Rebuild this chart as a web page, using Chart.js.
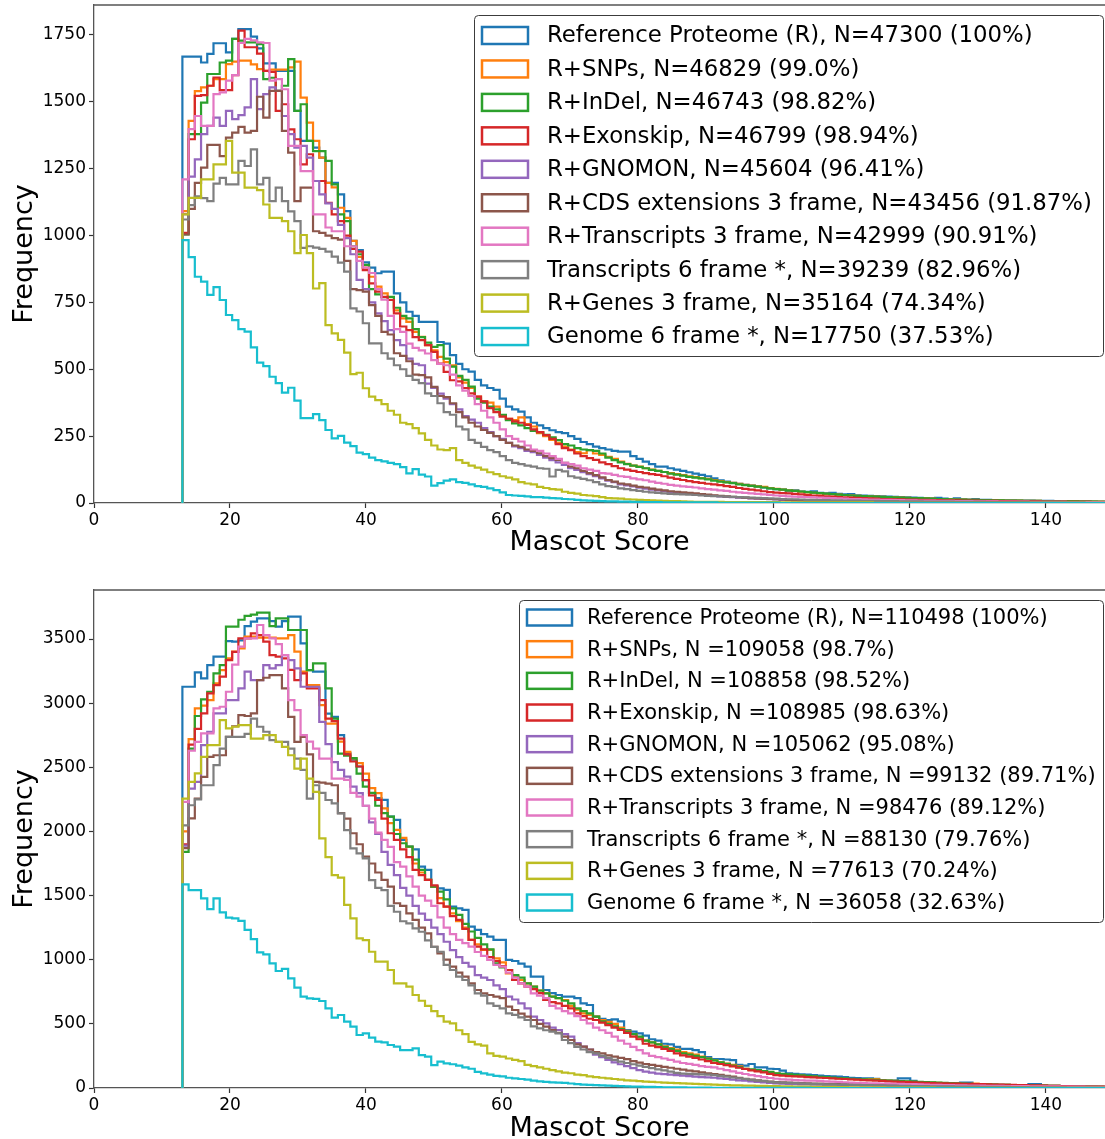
<!DOCTYPE html>
<html><head><meta charset="utf-8">
<script src="https://cdn.jsdelivr.net/npm/chart.js@4/dist/chart.umd.min.js"></script>
<style>
html,body{margin:0;padding:0;background:#fff;overflow:hidden;width:1105px;height:1139px;}
#c1{position:absolute;left:0;top:0;}
#c2{position:absolute;left:0;top:585px;}
</style></head><body>
<canvas id="c1" width="1105" height="585"></canvas>
<canvas id="c2" width="1105" height="560"></canvas>
<script>
// ---------- histogram bins (Mascot score) ----------
const binStart = 13.0;
const binWidth = 0.915;
const xTicks = [0, 20, 40, 60, 80, 100, 120, 140];
const topYTicks = [0, 250, 500, 750, 1000, 1250, 1500, 1750];
const botYTicks = [0, 500, 1000, 1500, 2000, 2500, 3000, 3500];

// ---------- top panel: frequencies per bin ----------
const topReference = [1669,1669,1669,1647,1679,1719,1719,1685,1735,1772,
1772,1744,1700,1644,1644,1616,1616,1616,1466,1354,
1354,1329,1291,1197,1197,1154,1091,980,946,900,
880,859,865,865,784,750,715,700,677,677,
677,602,596,553,520,500,491,460,440,430,
423,390,360,350,342,320,300,290,280,272,
265,261,250,240,228,220,211,205,200,195,
192,192,175,165,155,145,136,136,130,125,
120,115,110,105,100,92,85,80,75,72,
68,65,62,58,55,52,50,44,47,43,
42,44,38,36,38,34,32,33,29,28,
27,26,25,24,23,22,21,20,19,18,
17,19,16,15,17,14,13,15,12,12,
11,11,10,10,9,9,9,8,8,8,
7,7,7,6,6,6,5,5,5];
const topSNPs = [1091,1429,1540,1554,1560,1585,1585,1641,1650,1654,
1654,1640,1622,1616,1620,1620,1620,1629,1650,1516,
1422,1354,1291,1197,1180,1104,1066,980,920,880,
846,809,784,760,720,690,677,640,621,590,
571,546,527,515,470,450,430,398,380,375,
360,329,315,310,320,295,286,261,250,236,
225,211,200,190,186,198,185,180,173,165,
155,146,140,136,130,125,120,116,112,108,
104,100,97,93,90,86,82,78,75,72,
68,65,62,60,56,53,50,47,45,42,
40,38,36,34,33,31,30,28,27,26,
25,24,23,22,21,20,19,18,17,17,
16,15,15,14,13,13,12,12,11,11,
10,10,9,9,9,8,8,8,7,7,
7,6,6,6,5,5,5,5,4];
const topInDel = [1004,1379,1379,1497,1604,1604,1647,1654,1735,1729,
1722,1722,1716,1585,1590,1541,1560,1660,1466,1491,
1354,1316,1316,1279,1191,1079,1054,960,930,890,
800,780,770,771,730,700,690,650,620,600,
584,590,540,510,475,460,435,390,375,360,
350,330,310,298,290,280,270,265,255,245,
235,220,215,205,200,198,195,185,170,160,
152,145,140,135,130,124,120,116,110,106,
102,98,95,92,88,84,80,77,74,70,
67,64,61,58,55,52,50,47,45,43,
41,39,37,35,33,31,30,28,27,26,
25,24,23,22,21,20,19,18,18,17,
16,15,15,14,13,13,12,12,11,11,
10,10,9,9,9,8,8,8,7,7,
7,6,6,6,5,5,5,4,4];
const topExonskip = [1010,1360,1522,1525,1560,1591,1544,1544,1600,1766,
1704,1704,1680,1616,1612,1466,1491,1397,1360,1266,
1304,1204,1204,1122,1079,1054,1000,950,940,871,
821,790,771,759,709,660,646,620,609,590,
565,521,490,459,455,430,410,398,380,355,
340,323,315,305,300,292,275,265,254,240,
220,205,198,185,175,168,161,152,145,138,
130,125,120,116,112,108,105,100,95,90,
86,82,78,75,72,70,67,63,60,56,
53,50,47,44,41,39,37,36,34,32,
30,28,27,25,24,22,21,20,19,18,
17,16,15,15,14,14,13,13,12,12,
11,11,10,10,10,9,9,9,8,8,
8,7,7,7,6,6,6,6,5,5,
5,5,4,4,4,4,3,3,3];
const topGNOMON = [1080,1220,1285,1379,1410,1441,1410,1466,1435,1450,
1479,1585,1473,1529,1554,1541,1447,1379,1329,1335,
1291,1204,1154,1120,1100,1040,990,930,834,800,
750,709,680,646,609,590,540,520,515,446,
430,409,390,370,350,325,312,300,280,265,
250,240,225,212,205,195,190,180,170,160,
152,142,130,124,115,108,100,92,84,78,
70,66,62,57,54,50,47,44,41,39,
37,35,33,31,29,27,25,23,22,20,
19,17,16,15,14,13,12,11,10,10,
9,9,8,8,7,7,7,6,6,6,
5,5,5,5,4,4,4,4,4,3,
3,3,3,3,3,3,2,2,2,2,
2,2,2,2,2,2,2,1,1,1,
1,1,1,1,1,1,1,1,1];
const topCDS = [1004,1100,1197,1254,1339,1339,1297,1366,1385,1406,
1385,1391,1519,1441,1541,1541,1391,1310,1129,1179,
1179,1016,1010,1000,990,985,905,800,796,790,
740,700,640,630,560,550,530,480,478,470,
434,400,396,373,340,320,300,286,273,262,
250,236,225,215,210,200,195,186,175,168,
161,150,136,130,120,112,104,96,86,80,
73,70,65,60,58,54,50,47,44,42,
40,38,36,33,31,29,27,25,23,22,
20,18,17,16,15,14,13,12,11,10,
9,9,8,8,8,7,7,7,6,6,
6,5,5,5,5,4,4,4,4,4,
3,3,3,3,3,3,3,2,2,2,
2,2,2,2,2,2,2,2,1,1,
1,1,1,1,1,1,1,1,1];
const topTranscripts3 = [1210,1398,1447,1410,1410,1529,1535,1579,1600,1720,
1735,1730,1722,1720,1579,1585,1547,1335,1335,1241,
1241,1079,1079,1030,1016,1016,960,960,905,880,
860,800,760,700,650,640,596,580,571,559,
534,520,515,480,440,420,400,370,345,320,
300,275,250,240,230,215,200,195,185,175,
165,150,145,140,130,125,120,112,110,105,
100,98,92,88,85,80,75,72,68,65,
62,60,58,55,52,50,47,45,42,40,
38,36,34,32,30,28,27,25,24,23,
22,21,20,19,18,17,16,15,15,14,
13,13,12,12,11,11,10,10,9,9,
9,8,8,8,7,7,7,6,6,6,
6,5,5,5,5,5,4,4,4,4,
4,4,3,3,3,3,3,3,3];
const topTranscripts6 = [1060,1114,1147,1140,1129,1194,1216,1191,1191,1279,
1260,1322,1191,1216,1129,1179,1129,1090,1054,954,
960,955,950,940,921,899,865,728,716,672,
597,597,560,540,515,500,475,460,448,410,
400,373,340,330,286,275,236,225,210,198,
190,175,160,150,145,140,136,130,128,99,
124,118,100,95,90,85,78,70,63,60,
55,52,48,45,42,40,38,36,34,33,
32,31,30,28,27,26,25,24,23,22,
21,20,19,18,17,16,15,14,14,13,
12,12,11,11,10,10,9,9,9,8,
8,8,7,7,7,6,6,6,6,5,
5,5,5,5,4,4,4,4,4,3,
3,3,3,3,3,3,2,2,2,2,
2,2,2,2,2,1,1,1,1];
const topGenes3 = [1079,1141,1141,1210,1210,1266,1266,1354,1235,1235,
1179,1179,1170,1116,1066,1066,1054,1016,934,1002,
934,802,822,665,634,610,562,482,487,429,
398,385,370,345,330,300,295,280,260,236,
215,200,198,205,160,150,140,132,125,115,
108,100,95,88,78,73,70,60,56,52,
50,42,38,35,30,28,26,22,18,17,
16,14,13,12,11,10,9,8,7,7,
6,5,4,4,4,4,4,3,3,3,
3,3,3,3,3,3,2,2,2,2,
2,2,2,2,2,2,2,2,2,2,
2,1,1,1,1,1,1,1,1,1,
1,1,1,1,1,1,1,1,1,1,
1,1,1,1,1,1,1,1,1,1,
1,1,1,1,1,1,1,1,1];
const topGenome6 = [983,919,846,828,778,807,759,703,684,650,
641,582,525,512,472,448,413,431,383,317,
317,332,310,273,242,251,226,213,188,183,
170,160,156,150,145,134,111,127,106,99,
65,74,84,88,78,75,70,63,60,55,
48,40,30,28,27,25,22,22,20,18,
17,15,14,12,10,9,8,7,6,6,
5,5,4,4,3,3,3,2,2,2,
2,2,2,2,2,2,1,1,1,1,
1,1,1,1,1,1,0,0,0,0,
0,0,0,0,0,0,0,0,0,0,
0,0,0,0,0,0,0,0,0,0,
0,0,0,0,0,0,0,0,0,0,
0,0,0,0,0,0,0,0,0,0,
0,0,0,0,0,0,0,0,0];

// ---------- bottom panel: frequencies per bin ----------
const botReference = [3128,3128,3240,3193,3297,3362,3362,3484,3480,3490,
3600,3635,3661,3661,3640,3596,3640,3674,3674,3466,
3258,3245,3245,2919,2893,2750,2610,2560,2506,2400,
2298,2260,2246,2116,2090,1934,1882,1860,1726,1700,
1570,1556,1544,1414,1400,1388,1258,1232,1200,1180,
1154,1154,998,990,970,946,868,868,764,740,
725,712,712,700,660,647,556,540,530,535,
520,452,440,426,408,380,370,345,340,320,
305,305,295,280,240,226,226,222,218,180,
174,187,160,160,150,148,135,115,110,106,
104,100,96,93,90,88,85,80,78,75,
75,72,60,58,57,75,75,55,44,42,
40,38,37,36,36,42,42,30,28,27,
26,25,24,23,22,21,31,31,18,17,
16,15,14,13,12,11,10,9,8];
const botSNPs = [2000,2719,2959,2980,3024,3154,3258,3349,3401,3427,
3518,3518,3510,3510,3510,3505,3505,3531,3401,3245,
3141,3141,2985,2841,2841,2700,2620,2570,2532,2450,
2337,2298,2180,2064,2012,1950,1880,1750,1680,1622,
1570,1480,1414,1362,1300,1250,1154,1120,1076,1076,
1010,980,894,870,842,816,790,760,740,712,
700,686,640,610,582,570,556,530,515,500,
470,445,420,395,370,355,340,325,312,300,
280,270,260,245,230,215,200,190,180,168,
150,142,135,128,120,114,108,103,100,96,
92,88,85,82,78,75,72,70,68,66,
70,70,60,58,55,52,50,48,46,44,
42,40,38,36,34,32,31,34,30,28,
26,25,24,23,22,21,20,19,18,17,
16,15,14,13,12,11,10,10,9];
const botInDel = [1840,2646,2900,3030,3089,3232,3297,3596,3596,3650,
3680,3690,3706,3706,3600,3661,3661,3570,3570,3570,
3258,3310,3310,3115,2880,2607,2590,2571,2450,2350,
2300,2200,2142,2116,1980,1908,1882,1780,1700,1622,
1570,1530,1470,1400,1350,1280,1220,1170,1120,1080,
972,940,920,880,860,816,790,760,738,712,
700,680,660,620,600,582,556,520,500,480,
460,440,420,400,369,355,340,320,305,290,
270,260,250,240,228,215,200,188,175,162,
150,145,140,132,125,115,110,106,102,98,
94,90,87,84,81,78,75,72,70,68,
65,63,60,58,56,54,52,50,48,46,
44,42,40,38,36,34,32,30,29,28,
26,25,24,23,22,21,20,19,18,17,
16,15,14,13,12,11,10,10,9];
const botExonskip = [1900,2677,2800,2920,3076,3141,3206,3336,3400,3505,
3505,3544,3531,3480,3375,3362,3349,3260,3180,3232,
3115,3115,3024,2880,2860,2724,2600,2545,2506,2400,
2280,2246,2100,1986,1934,1860,1800,1700,1660,1622,
1580,1440,1414,1340,1310,1240,1154,1102,1080,1020,
990,950,920,842,816,790,770,740,686,670,
660,640,620,582,560,540,530,510,490,470,
452,430,400,380,345,330,318,305,290,270,
255,245,235,222,210,195,187,178,168,158,
148,138,130,122,110,100,96,92,90,88,
85,83,80,78,75,72,70,67,65,62,
60,57,55,52,50,48,46,44,42,40,
39,37,36,35,34,33,32,31,30,28,
27,26,25,24,23,22,21,20,18,17,
16,15,14,13,12,11,11,10,10];
const botGNOMON = [1890,2334,2387,2673,2777,2920,2920,3024,3024,3115,
3245,3180,3180,3297,3271,3297,3375,3336,3271,3128,
3128,3128,2854,2680,2540,2480,2428,2350,2298,2200,
2070,1980,1840,1740,1660,1560,1500,1420,1360,1310,
1250,1200,1140,1075,1020,975,946,880,860,842,
800,770,712,690,660,620,556,530,504,470,
452,420,400,350,322,300,260,240,220,200,
185,170,155,140,128,120,112,108,104,100,
96,92,88,85,83,80,75,70,65,60,
57,52,48,44,40,36,34,32,30,29,
28,27,26,25,24,23,22,21,20,19,
18,17,16,15,14,13,13,12,12,11,
11,10,10,9,9,8,8,7,7,7,
6,5,5,5,5,5,4,4,4,4,
4,3,3,3,3,3,3,3,3];
const botCDS = [1870,2101,2256,2425,2581,2594,2594,2737,2820,2907,
2900,2920,3180,3198,3219,3219,3115,2893,2698,2737,
2600,2387,2380,2373,2360,2142,2100,1986,1900,1804,
1750,1680,1622,1570,1440,1420,1362,1310,1250,1206,
1100,1050,1000,946,900,868,816,764,738,725,
712,700,634,608,580,556,530,500,478,452,
430,400,374,340,322,300,280,270,255,245,
235,225,210,198,187,180,172,165,158,150,
143,136,130,122,115,109,102,95,88,80,
72,66,60,55,50,46,44,42,40,38,
37,35,34,33,32,31,30,29,28,27,
26,25,24,23,22,21,20,20,19,18,
17,16,15,15,14,13,13,12,12,11,
11,10,10,9,9,8,8,8,7,7,
7,6,6,6,5,5,5,5,4];
const botTranscripts3 = [2230,2629,2698,2764,2764,2959,2972,3089,3300,3440,
3505,3505,3609,3531,3505,3460,3375,3024,2946,2750,
2700,2646,2568,2568,2412,2412,2402,2300,2272,2200,
2100,1990,1934,1880,1760,1726,1650,1570,1500,1460,
1420,1330,1250,1200,1154,1130,1102,1060,1030,998,
960,946,900,860,816,790,738,720,700,640,
620,600,582,560,530,504,470,450,430,400,
370,345,320,295,270,250,240,230,220,205,
195,188,180,170,165,161,150,140,130,118,
109,100,92,85,78,72,68,65,62,60,
58,57,55,52,50,47,44,42,40,38,
37,36,35,34,33,32,31,30,28,26,
25,24,23,22,21,20,19,18,18,17,
16,16,15,15,14,14,13,13,13,12,
12,11,11,10,10,9,9,8,8];
const botTranscripts6 = [2047,2204,2250,2360,2360,2517,2646,2737,2737,2737,
2760,2880,2816,2777,2711,2698,2698,2646,2568,2480,
2256,2360,2300,2245,2219,2141,2010,1868,1829,1790,
1620,1560,1543,1420,1374,1300,1283,1244,1218,1150,
1100,1062,960,920,868,842,800,738,720,660,
640,620,582,570,550,530,480,465,450,440,
426,374,350,320,300,280,270,250,235,220,
205,195,185,175,165,155,145,138,128,118,
112,110,108,106,104,100,95,88,82,76,
70,64,58,53,48,44,42,40,38,36,
34,32,30,29,28,27,26,25,24,23,
22,21,20,19,18,17,16,15,15,14,
13,13,12,12,11,11,10,10,9,9,
8,8,8,7,7,7,6,6,6,5,
5,5,4,4,4,4,3,3,3];
const botGenes3 = [2256,2386,2452,2581,2673,2673,2868,2803,2816,2829,
2829,2724,2724,2750,2750,2698,2659,2594,2490,2568,
2412,2308,1946,1800,1660,1640,1427,1322,1166,1153,
1062,985,985,920,816,816,790,725,680,640,
600,560,517,504,450,420,360,340,330,270,
250,244,230,220,210,180,170,160,150,140,
130,120,115,105,100,90,85,80,75,70,
65,60,57,54,50,47,45,42,40,38,
36,34,32,30,28,26,24,22,21,20,
19,18,17,16,15,14,13,12,11,10,
10,9,9,8,8,7,7,6,6,6,
5,5,5,4,4,4,4,3,3,3,
3,2,2,2,2,2,2,2,2,2,
2,1,1,1,1,1,1,1,1,1,
1,1,1,1,1,1,1,1,1];
const botGenome6 = [1587,1543,1543,1478,1394,1478,1369,1328,1322,1302,
1232,1161,1058,1042,972,912,928,855,782,712,
699,694,678,621,548,569,517,478,413,426,
392,361,355,335,322,296,296,309,257,244,
179,205,192,185,175,161,150,125,114,105,
95,90,80,75,70,65,58,52,48,44,
42,40,35,30,27,25,23,20,18,16,
14,12,11,10,9,8,7,6,6,5,
5,4,4,3,3,2,2,2,2,2,
2,1,1,1,1,1,1,1,1,1,
1,0,0,0,0,0,0,0,0,0,
0,0,0,0,0,0,0,0,0,0,
0,0,0,0,0,0,0,0,0,0,
0,0,0,0,0,0,0,0,0,0,
0,0,0,0,0,0,0,0,0];

// ---------- legend labels ----------
const topLabels = [
  'Reference Proteome (R), N=47300 (100%)',
  'R+SNPs, N=46829 (99.0%)',
  'R+InDel, N=46743 (98.82%)',
  'R+Exonskip, N=46799 (98.94%)',
  'R+GNOMON, N=45604 (96.41%)',
  'R+CDS extensions 3 frame, N=43456 (91.87%)',
  'R+Transcripts 3 frame, N=42999 (90.91%)',
  'Transcripts 6 frame *, N=39239 (82.96%)',
  'R+Genes 3 frame, N=35164 (74.34%)',
  'Genome 6 frame *, N=17750 (37.53%)'
];
const botLabels = [
  'Reference Proteome (R), N=110498 (100%)',
  'R+SNPs, N =109058 (98.7%)',
  'R+InDel, N =108858 (98.52%)',
  'R+Exonskip, N =108985 (98.63%)',
  'R+GNOMON, N =105062 (95.08%)',
  'R+CDS extensions 3 frame, N =99132 (89.71%)',
  'R+Transcripts 3 frame, N =98476 (89.12%)',
  'Transcripts 6 frame *, N =88130 (79.76%)',
  'R+Genes 3 frame, N =77613 (70.24%)',
  'Genome 6 frame *, N =36058 (32.63%)'
];
const xTitle = 'Mascot Score';
const yTitle = 'Frequency';

// ---------- styles ----------
const seriesColors = ['#1f77b4','#ff7f0e','#2ca02c','#d62728','#9467bd',
                      '#8c564b','#e377c2','#7f7f7f','#bcbd22','#17becf'];
const axisColor = '#555555';
const FONT = '"DejaVu Sans", "Liberation Sans", sans-serif';
Chart.defaults.font.family = FONT;
Chart.defaults.color = '#000';

function histPoints(values) {
  const pts = [{x: binStart, y: 0}];
  for (let i = 0; i < values.length; i++) {
    const x0 = binStart + i * binWidth;
    const x1 = binStart + (i + 1) * binWidth;
    pts.push({x: x0, y: values[i]});
    pts.push({x: x1, y: values[i]});
  }
  pts.push({x: binStart + values.length * binWidth, y: 0});
  return pts;
}

function makeDatasets(seriesList, labels) {
  return seriesList.map((vals, i) => ({
    label: labels[i],
    data: histPoints(vals),
    borderColor: seriesColors[i],
    backgroundColor: seriesColors[i],
    borderWidth: 2.2,
    pointRadius: 0,
    pointHoverRadius: 0,
    fill: false,
    tension: 0,
    borderJoinStyle: 'miter',
    borderCapStyle: 'butt',
    order: seriesList.length - 1 - i
  }));
}

const frameLegend = {
  id: 'frameLegend',
  afterDraw(chart, args, o) {
    const ctx = chart.ctx;
    const ca = chart.chartArea;
    ctx.save();
    // top spine
    ctx.strokeStyle = axisColor;
    ctx.lineWidth = 1.3;
    ctx.beginPath();
    ctx.moveTo(ca.left, ca.top);
    ctx.lineTo(ca.right, ca.top);
    ctx.stroke();
    // legend box
    ctx.beginPath();
    if (ctx.roundRect) ctx.roundRect(o.x + 0.5, o.y + 0.5, o.w, o.h, 4);
    else ctx.rect(o.x + 0.5, o.y + 0.5, o.w, o.h);
    ctx.fillStyle = 'rgba(255,255,255,0.85)';
    ctx.fill();
    ctx.strokeStyle = '#3c3c3c';
    ctx.lineWidth = 1;
    ctx.stroke();
    ctx.font = o.fontSize + 'px ' + FONT;
    ctx.textBaseline = 'middle';
    ctx.textAlign = 'left';
    chart.data.datasets.forEach((ds, i) => {
      const cy = o.firstRow + i * o.rowStep;
      ctx.strokeStyle = ds.borderColor;
      ctx.lineWidth = 2.5;
      ctx.strokeRect(o.handleX, cy - o.handleH / 2, o.handleW, o.handleH);
      ctx.fillStyle = '#000';
      ctx.fillText(ds.label, o.textX, cy + 1);
    });
    ctx.restore();
  }
};

function makeChart(canvasId, datasets, yMax, yTickValues, xAxisHeight, xTitlePadBottom, legendOpts) {
  return new Chart(document.getElementById(canvasId), {
    type: 'line',
    data: {datasets},
    plugins: [frameLegend],
    options: {
      responsive: false,
      animation: false,
      devicePixelRatio: 1,
      layout: {padding: {top: 5, left: 0, right: 0, bottom: 0}},
      plugins: {
        legend: {display: false},
        tooltip: {enabled: false},
        frameLegend: legendOpts
      },
      scales: {
        x: {
          type: 'linear',
          min: 0,
          max: 148.7,
          ticks: {
            autoSkip: false, maxRotation: 0,
            padding: 2, color: '#000', font: {size: 17},
            callback: v => String(v)
          },
          afterBuildTicks: s => { s.ticks = xTicks.map(v => ({value: v})); },
          grid: {display: true, drawOnChartArea: false, drawTicks: true, tickLength: 5,
                 tickColor: '#333', tickWidth: 1.2},
          border: {display: true, color: axisColor, width: 1.3},
          title: {display: true, text: xTitle, color: '#000', font: {size: 27},
                  padding: {top: 0, bottom: xTitlePadBottom}},
          afterFit: s => { s.height = xAxisHeight; s.paddingLeft = 0; s.paddingRight = 0; s.paddingTop = 0; s.paddingBottom = 0; }
        },
        y: {
          type: 'linear',
          min: 0,
          max: yMax,
          ticks: {
            autoSkip: false, padding: 3, color: '#000', font: {size: 17},
            callback: v => String(v)
          },
          afterBuildTicks: s => { s.ticks = yTickValues.map(v => ({value: v})); },
          grid: {display: true, drawOnChartArea: false, drawTicks: true, tickLength: 5,
                 tickColor: '#333', tickWidth: 1.2},
          border: {display: true, color: axisColor, width: 1.3},
          title: {display: true, text: yTitle, color: '#000', font: {size: 27},
                  padding: {top: 8.8, bottom: 0}},
          afterFit: s => { s.width = 94; s.paddingLeft = 0; s.paddingRight = 0; s.paddingTop = 0; s.paddingBottom = 0; }
        }
      }
    }
  });
}

const topSeries = [topReference, topSNPs, topInDel, topExonskip, topGNOMON,
                   topCDS, topTranscripts3, topTranscripts6, topGenes3, topGenome6];
const botSeries = [botReference, botSNPs, botInDel, botExonskip, botGNOMON,
                   botCDS, botTranscripts3, botTranscripts6, botGenes3, botGenome6];

makeChart('c1', makeDatasets(topSeries, topLabels), 1862, topYTicks, 82, 25.8,
  {x: 474, y: 15, w: 629, h: 341, firstRow: 35.5, rowStep: 33.45,
   handleX: 482, handleW: 46, handleH: 17, textX: 547, fontSize: 22.8});
makeChart('c2', makeDatasets(botSeries, botLabels), 3882, botYTicks, 57, 0,
  {x: 519, y: 15, w: 584, h: 322, firstRow: 32.5, rowStep: 31.67,
   handleX: 527, handleW: 45, handleH: 16, textX: 587, fontSize: 21});
</script>
</body></html>
